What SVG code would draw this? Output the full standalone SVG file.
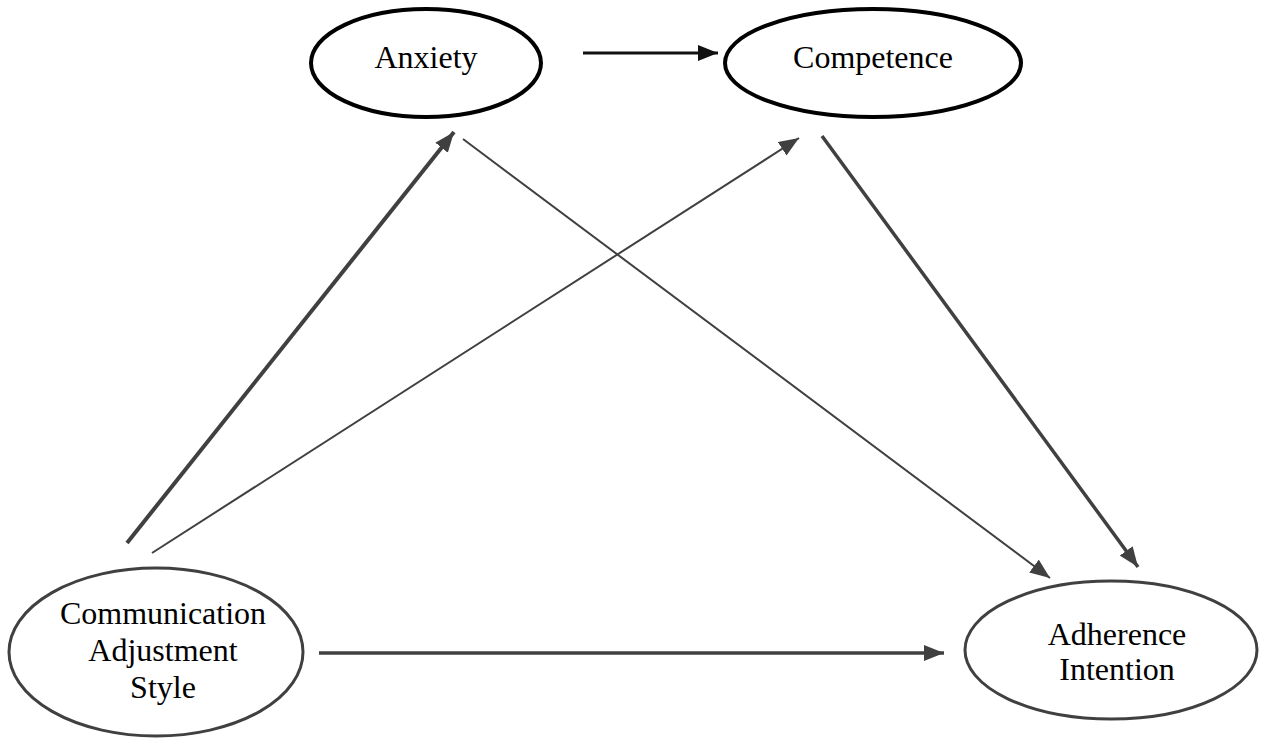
<svg xmlns="http://www.w3.org/2000/svg" width="1261" height="738" viewBox="0 0 1261 738">
<style>
.lbl{font-family:"Liberation Serif","Times New Roman",serif;font-size:32px;fill:#000;text-anchor:middle}
.top{fill:#fff;stroke:#000;stroke-width:4}
.bot{fill:#fff;stroke:#404040;stroke-width:3}
.c{stroke:#404040;fill:none}
</style>
<defs>
<marker id="ah" markerUnits="userSpaceOnUse" markerWidth="22" markerHeight="18" refX="20" refY="8" orient="auto">
<path d="M0,0 L20,8 L0,16 z" fill="#404040"/>
</marker>
<marker id="ahk" markerUnits="userSpaceOnUse" markerWidth="22" markerHeight="18" refX="20" refY="8" orient="auto">
<path d="M0,0 L20,8 L0,16 z" fill="#111"/>
</marker>
</defs>
<rect width="1261" height="738" fill="#fff"/>
<g id="connectors">
<line x1="583" y1="53" x2="718" y2="53" stroke="#111" stroke-width="3" marker-end="url(#ahk)"/>
<line class="c" x1="127" y1="543" x2="454" y2="132" stroke-width="4" marker-end="url(#ah)"/>
<line class="c" x1="152" y1="553" x2="799" y2="138" stroke-width="2" marker-end="url(#ah)"/>
<line class="c" x1="463" y1="139" x2="1050" y2="578" stroke-width="2" marker-end="url(#ah)"/>
<line class="c" x1="822" y1="136" x2="1138" y2="567" stroke-width="3.5" marker-end="url(#ah)"/>
<line class="c" x1="319" y1="653" x2="944" y2="653" stroke-width="3.5" marker-end="url(#ah)"/>
</g>
<g id="anxiety">
<ellipse class="top" cx="426" cy="63" rx="115" ry="54"/>
<text class="lbl" x="426" y="68">Anxiety</text>
</g>
<g id="competence">
<ellipse class="top" cx="873" cy="63" rx="148" ry="54"/>
<text class="lbl" x="873" y="68">Competence</text>
</g>
<g id="cas">
<ellipse class="bot" cx="156" cy="652" rx="147" ry="84"/>
<text class="lbl" x="163" y="624">Communication</text>
<text class="lbl" x="163" y="661">Adjustment</text>
<text class="lbl" x="163" y="698">Style</text>
</g>
<g id="adherence">
<ellipse class="bot" cx="1111" cy="650" rx="146" ry="69"/>
<text class="lbl" x="1117" y="645">Adherence</text>
<text class="lbl" x="1117" y="680">Intention</text>
</g>
</svg>
